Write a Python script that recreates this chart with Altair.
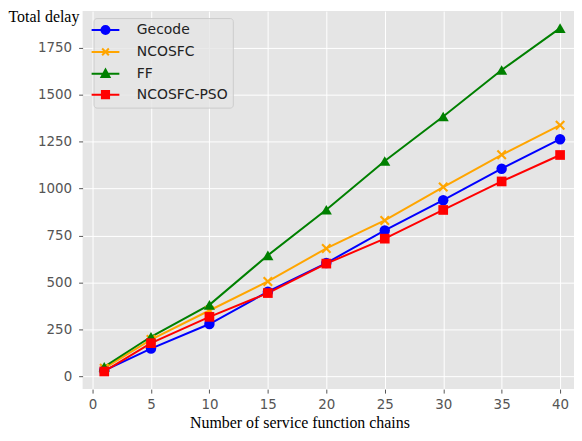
import altair as alt
import pandas as pd

# ---- data ----
x_vals = [1, 5, 10, 15, 20, 25, 30, 35, 40]
gecode = [30, 147, 278, 450, 603, 777, 938, 1106, 1263]
ncosfc = [42, 195, 350, 505, 681, 830, 1008, 1180, 1338]
ff = [50, 210, 380, 644, 887, 1147, 1384, 1632, 1855]
pso = [25, 176, 316, 443, 600, 733, 886, 1038, 1179]

series = ["Gecode", "NCOSFC", "FF", "NCOSFC-PSO"]
colors = ["#0000ff", "#ffa500", "#008000", "#ff0000"]
x_ticks = [0, 5, 10, 15, 20, 25, 30, 35, 40]
y_ticks = [0, 250, 500, 750, 1000, 1250, 1500, 1750]

rows = []
for name, vals in zip(series, [gecode, ncosfc, ff, pso]):
    for xv, yv in zip(x_vals, vals):
        rows.append({"n": xv, "delay": yv, "series": name})
df = pd.DataFrame(rows)

# marker shapes on the plot
X_PATH = ("M-1,-0.7L-0.7,-1L1,0.7L0.7,1Z "
          "M1,-0.7L-0.7,1L-1,0.7L0.7,-1Z")
plot_shapes = ["circle", X_PATH, "triangle-up", "square"]
plot_sizes = [110, 100, 125, 95]

# legend symbols: line segment + marker
L = "M-3.1,0H3.1 "
legend_paths = [
    L + "M0.9,0A0.9,0.9 0 1,1 -0.9,0A0.9,0.9 0 1,1 0.9,0Z",
    L + "M-0.75,-0.75L0.75,0.75M-0.75,0.75L0.75,-0.75",
    L + "M0,-0.95L0.9,0.7L-0.9,0.7Z",
    L + "M-0.8,-0.8H0.8V0.8H-0.8Z",
]

color_scale = alt.Scale(domain=series, range=colors)
x_scale = alt.Scale(domain=[-0.85, 41.19], nice=False, zero=False)
y_scale = alt.Scale(domain=[-69, 1946], nice=False, zero=False)

x_axis = alt.Axis(values=x_ticks, title="Number of service function chains",
                  titleX=218, titleY=39, titleAlign="center",
                  titleBaseline="alphabetic")
y_axis = alt.Axis(values=y_ticks, format="d", title="Total delay",
                  titleAngle=0, titleX=-75, titleY=5, titleAlign="left",
                  titleBaseline="middle")
x_enc = alt.X("n:Q", scale=x_scale, axis=x_axis)
y_enc = alt.Y("delay:Q", scale=y_scale, axis=y_axis)

base = alt.Chart(df)

# legend-only layer: its marks are pushed out of the clipped view
leg = alt.Legend(orient="none", legendX=11, legendY=7, title=None)
legend_layer = base.transform_calculate(
    hidden="datum.delay + 100000"
).mark_point(
    filled=True, size=81, strokeWidth=2, opacity=1, clip=True
).encode(
    x=x_enc,
    y=alt.Y("hidden:Q", scale=y_scale, axis=y_axis),
    fill=alt.Fill("series:N", scale=alt.Scale(domain=series, range=colors),
                  title=None, legend=leg),
    stroke=alt.Stroke("series:N", scale=alt.Scale(domain=series, range=colors),
                      title=None, legend=leg),
    shape=alt.Shape("series:N", scale=alt.Scale(domain=series, range=legend_paths),
                    title=None, legend=leg),
)

lines = base.mark_line(strokeWidth=2).encode(
    x=x_enc, y=y_enc,
    color=alt.Color("series:N", scale=color_scale, legend=None),
    order=alt.Order("n:Q"),
)

point_layers = []
for s, shp, sz in zip(series, plot_shapes, plot_sizes):
    point_layers.append(
        base.transform_filter(alt.datum.series == s)
        .mark_point(filled=True, shape=shp, size=sz, opacity=1)
        .encode(x=x_enc, y=y_enc,
                color=alt.Color("series:N", scale=color_scale, legend=None))
    )

chart = alt.layer(legend_layer, lines, *point_layers).properties(
    width=494, height=380,
    autosize=alt.AutoSizeParams(type="none"),
    padding={"left": 75, "top": 2, "right": 0, "bottom": 43},
).configure_view(
    fill="#e5e5e5", stroke=None
).configure_axis(
    domain=False, grid=True, gridColor="#ffffff", gridWidth=1,
    tickColor="#555555", tickSize=4, tickWidth=1,
    labelColor="#555555", labelFont="DejaVu Sans", labelFontSize=13.5,
    titleFont="Liberation Serif", titleFontSize=16, titleFontWeight="normal",
    titleColor="#000000",
).configure_axisX(
    labelPadding=5
).configure_axisY(
    labelPadding=7
).configure_legend(
    fillColor="rgba(229,229,229,0.8)", strokeColor="#cccccc", cornerRadius=3,
    padding=5, labelFont="DejaVu Sans", labelFontSize=14, labelColor="#222222",
    labelOffset=24.5, rowPadding=5, symbolSize=81, symbolStrokeWidth=2,
)

chart.save("out.html", embed_options={"renderer": "svg", "actions": False})
